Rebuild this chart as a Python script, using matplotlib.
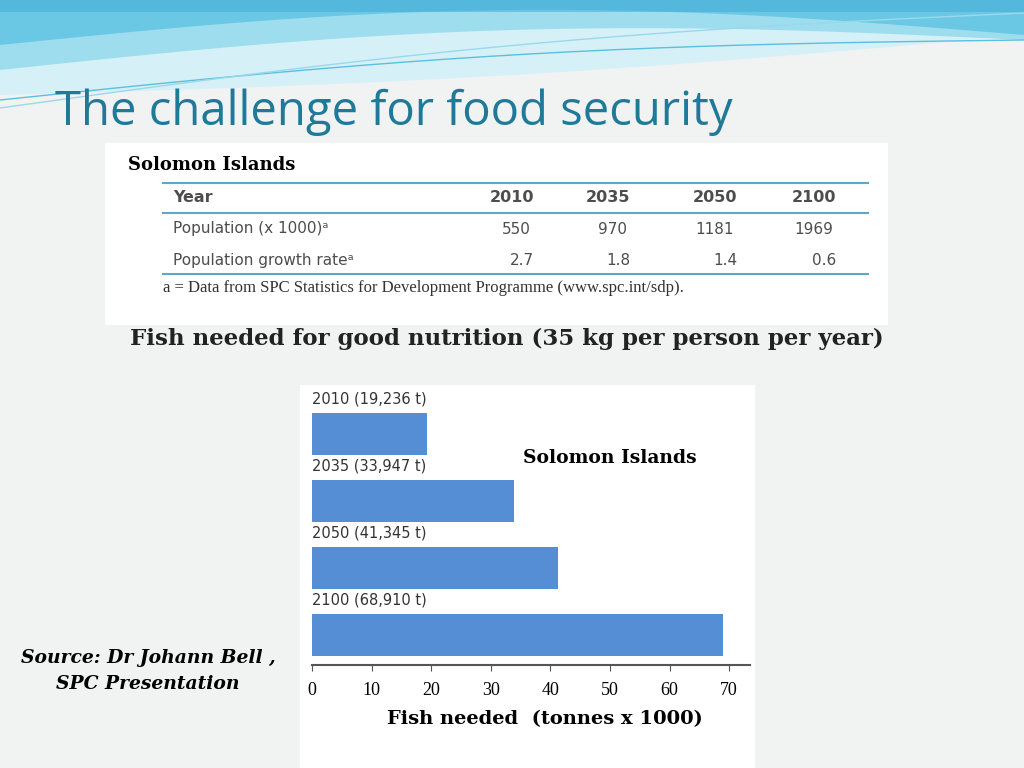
import matplotlib
matplotlib.use("Agg")
import matplotlib.pyplot as plt
import numpy as np
from matplotlib.patches import Rectangle

years = ["2010", "2035", "2050", "2100"]
population = ["550", "970", "1181", "1969"]
growth = ["2.7", "1.8", "1.4", "0.6"]
fish_t = [19236, 33947, 41345, 68910]
fish_k = [19.236, 33.947, 41.345, 68.910]
bar_labels = ["2010 (19,236 t)", "2035 (33,947 t)", "2050 (41,345 t)", "2100 (68,910 t)"]
xticks = [0, 10, 20, 30, 40, 50, 60, 70]

W, H = 1024, 768
fig = plt.figure(figsize=(10.24, 7.68), dpi=100)
fig.patch.set_facecolor("#F1F2F2")
fx = lambda p: p / W
fy = lambda p: 1 - p / H
SERIF = "DejaVu Serif"

# decorative waves
bg = fig.add_axes([0, 0, 1, 1], zorder=0)
bg.set_xlim(0, W); bg.set_ylim(H, 0); bg.axis("off")
x = np.linspace(0, W, 300)
t = x / W
bg.fill_between(x, 0, 95 - 60 * t + 10 * np.sin(np.pi * t), color="#D6F0F8", lw=0)
bg.fill_between(x, 0, 70 - 30 * t - 25 * np.sin(np.pi * t), color="#9EDDEE", lw=0)
bg.fill_between(x, 0, 45 - 10 * t - 30 * np.sin(np.pi * t), color="#5EC3E2", alpha=0.8, lw=0)
bg.fill_between(x, 0, 12 + 0 * t, color="#3FA9D6", alpha=0.5, lw=0)
bg.plot(x, 100 - 60 * t - 15 * np.sin(np.pi * t), color="#5BC0DE", lw=1)
bg.plot(x, 108 - 95 * t - 15 * np.sin(np.pi * t), color="#9AD8EC", lw=1)

fig.text(fx(55), fy(112), "The challenge for food security", fontsize=34, color="#1F7A99",
         family="Open Sans", va="center", ha="left")

# table box
bg.add_patch(Rectangle((105, 143), 783, 182, facecolor="white", edgecolor="none"))
fig.text(fx(128), fy(165), "Solomon Islands", fontsize=13, weight="bold",
         family=SERIF, va="center")
tc = "#4D4D4D"
for yy in (183, 213, 274):
    bg.plot([163, 868], [yy, yy], color="#5AA9C8", lw=1.5)
colx = [534, 630, 737, 836]
fig.text(fx(173), fy(198), "Year", fontsize=11.5, weight="bold", color=tc, va="center")
fig.text(fx(173), fy(229), "Population (x 1000)ᵃ", fontsize=11, color=tc, va="center")
fig.text(fx(173), fy(260), "Population growth rateᵃ", fontsize=11, color=tc, va="center")
for i in range(4):
    fig.text(fx(colx[i]), fy(198), years[i], fontsize=11.5, weight="bold", color=tc, va="center", ha="right")
    fig.text(fx(colx[i] - 3), fy(229), population[i], fontsize=11, color=tc, va="center", ha="right")
    fig.text(fx(colx[i]), fy(260), growth[i], fontsize=11, color=tc, va="center", ha="right")
fig.text(fx(163), fy(288), "a = Data from SPC Statistics for Development Programme (www.spc.int/sdp).",
         fontsize=12, family="Liberation Serif", color="#333333", va="center")

fig.text(fx(130), fy(339), "Fish needed for good nutrition (35 kg per person per year)",
         fontsize=16.5, weight="bold", family=SERIF, color="#222222", va="center")

# chart white panel
bg.add_patch(Rectangle((300, 385), 455, 383, facecolor="white", edgecolor="none"))

ax = fig.add_axes([fx(312), fy(665), 438 / W, 280 / H], zorder=2)
ax.patch.set_alpha(0)
ypos = [3, 2, 1, 0]
ax.barh(ypos, fish_k, height=0.63, color="#558ED5")
for yp, lab in zip(ypos, bar_labels):
    ax.text(0, yp + 0.52, lab, fontsize=10.5, color="#333333", va="center", ha="left")
ax.set_xlim(0, 73.5)
ax.set_ylim(-0.448, 3.731)
ax.set_yticks([])
for s in ("top", "right", "left"):
    ax.spines[s].set_visible(False)
ax.spines["bottom"].set_color("#555555")
ax.spines["bottom"].set_linewidth(1.5)
ax.set_xticks(xticks)
ax.set_xticklabels([str(v) for v in xticks], family="Liberation Serif", fontsize=13)
ax.tick_params(axis="x", length=4, color="#555555", pad=8)
ax.text(fx(610 - 312) * W / 438, (665 - 458) / 280, "Solomon Islands", transform=ax.transAxes,
        fontsize=13.5, weight="bold", family=SERIF, ha="center", va="center")
fig.text(fx(545), fy(719), "Fish needed  (tonnes x 1000)", fontsize=14, weight="bold",
         family=SERIF, ha="center", va="center")

fig.text(fx(148), fy(658), "Source: Dr Johann Bell ,", fontsize=13.5, weight="bold", style="italic",
         family=SERIF, ha="center", va="center")
fig.text(fx(148), fy(684), "SPC Presentation", fontsize=13.5, weight="bold", style="italic",
         family=SERIF, ha="center", va="center")

fig.savefig("out.png", dpi=100)
